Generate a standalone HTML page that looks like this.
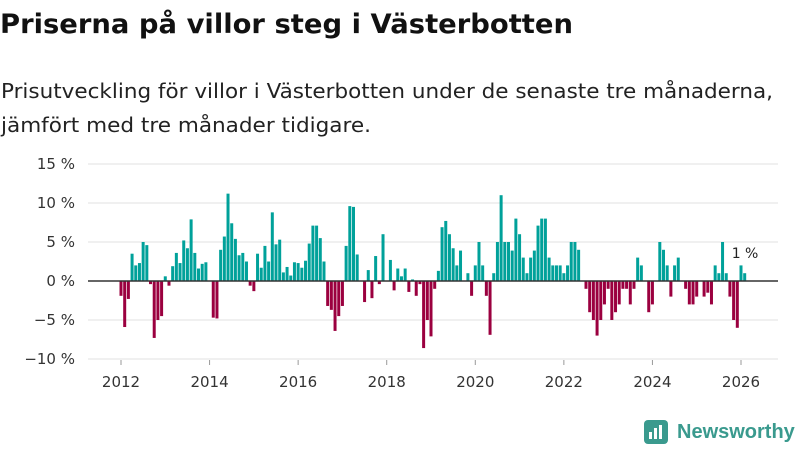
<!DOCTYPE html>
<html><head><meta charset="utf-8"><style>
body{margin:0;width:800px;height:450px;background:#fff;font-family:"DejaVu Sans","Liberation Sans",sans-serif;overflow:hidden;position:relative}
</style></head><body>
<svg width="800" height="140" style="position:absolute;left:0;top:0">
<text x="0" y="33" font-size="27" font-weight="bold" fill="#111" textLength="573" lengthAdjust="spacingAndGlyphs">Priserna på villor steg i Västerbotten</text>
<text x="1" y="98" font-size="20" fill="#222" textLength="772" lengthAdjust="spacingAndGlyphs">Prisutveckling för villor i Västerbotten under de senaste tre månaderna,</text>
<text x="1" y="132" font-size="20" fill="#222" textLength="370" lengthAdjust="spacingAndGlyphs">jämfört med tre månader tidigare.</text>
</svg>
<svg id="c" width="800" height="450" style="position:absolute;left:0;top:0"></svg>
<script>
const values=[-1.9,-5.9,-2.3,3.5,2,2.3,5,4.6,-0.4,-7.3,-5,-4.5,0.6,-0.6,1.9,3.6,2.3,5.2,4.2,7.9,3.6,1.6,2.2,2.4,
0,-4.7,-4.8,4,5.7,11.2,7.4,5.4,3.3,3.6,2.5,-0.6,-1.3,3.5,1.7,4.5,2.5,8.8,4.7,5.3,1.1,1.8,0.7,2.4,
2.3,1.7,2.6,4.8,7.1,7.1,5.5,2.5,-3.2,-3.7,-6.4,-4.5,-3.2,4.5,9.6,9.5,3.4,0,-2.7,1.4,-2.2,3.2,-0.4,6,
0,2.7,-1.2,1.6,0.6,1.6,-1.4,0.2,-1.9,-0.4,-8.6,-5,-7.1,-1,1.3,6.9,7.7,6,4.2,2,3.9,0,1,-1.9,2,5,
2,-1.9,-6.9,1,5,11,5,5,3.9,8,6,3,1,3,3.9,7.1,8,8,3,2,2,2,1,2,5,5,
4,0,-1,-4,-5,-7,-5,-3,-1,-5,-4,-3,-1,-1,-3,-1,3,2,0,-4,-3,0,5,4,
2,-2,2,3,0,-1,-3,-3,-2,0,-2,-1.5,-3,2,1,5,1,-2,-5,-6,2,1];
const yTicks=[15,10,5,0,-5,-10];
const xTicks=[2012,2014,2016,2018,2020,2022,2024,2026];
const lastLabel="1 %";
const svg=document.getElementById('c'),NS='http://www.w3.org/2000/svg';
const y=v=>281-v*7.8;
const x=i=>121+i*(620/168);
const xy=yr=>121+(yr-2012)*(620/14);
function el(t,a){const e=document.createElementNS(NS,t);for(const k in a)e.setAttribute(k,a[k]);svg.appendChild(e);return e;}
yTicks.forEach(v=>{
  const g=el('line',{x1:88,x2:778,y1:y(v),y2:y(v),stroke:'#e0e0e0','stroke-width':1});
  
  
  const t=el('text',{x:75,y:y(v)+5,'text-anchor':'end','font-size':15,fill:'#333'});
  t.textContent=(v<0?'\u2212'+(-v):v)+' %';
  
  
});
values.forEach((v,i)=>{
  const r=el('rect',{x:x(i)-1.5,width:3,y:v>=0?y(v):y(0),height:Math.abs(v*7.8),fill:v>=0?'#00a19a':'#9b003f'});
  
  
});
const z=el('line',{x1:88,x2:778,y1:y(0),y2:y(0),stroke:'#333','stroke-width':1.6});


xTicks.forEach(yr=>{
  const k=el('line',{x1:xy(yr),x2:xy(yr),y1:360,y2:365,stroke:'#999'});
  
  
  const t=el('text',{x:xy(yr),y:387,'text-anchor':'middle','font-size':15,fill:'#333'});
  t.textContent=yr;
  
  
});
const li=values.length-1;
const lb=el('text',{x:x(li)-13,y:258,'font-size':14,fill:'#222'});
lb.textContent=lastLabel;


</script>
<div style="position:absolute;left:644px;top:420px;display:flex;align-items:center">
<svg width="24" height="24"><rect width="24" height="24" rx="4" fill="#3a9a8e"/><rect x="5" y="12" width="3" height="7" fill="#fff"/><rect x="10" y="8" width="3" height="11" fill="#fff"/><rect x="15" y="5" width="3" height="14" fill="#fff"/></svg>
<span style="font-size:20px;font-weight:bold;color:#3a9a8e;margin-left:9px;font-family:'Liberation Sans',sans-serif">Newsworthy</span></div>
</body></html>
